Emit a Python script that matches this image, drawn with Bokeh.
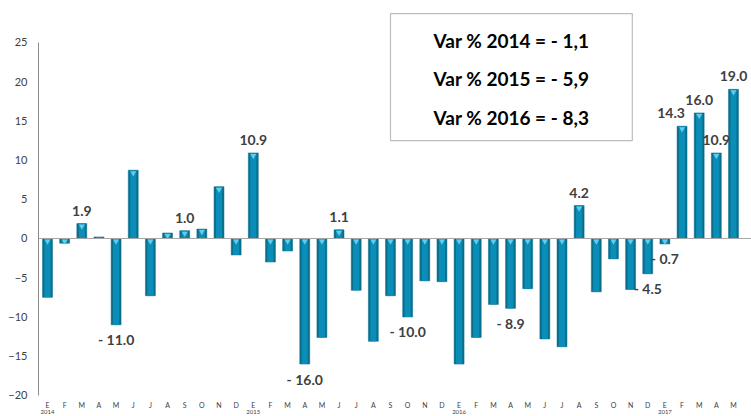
from bokeh.plotting import figure
from bokeh.models import Range1d, FixedTicker, BoxAnnotation, ColumnDataSource, Span
from bokeh.core.properties import value
from bokeh.embed import file_html
from bokeh.resources import INLINE

# ---------------- data ----------------
months = ["E", "F", "M", "A", "M", "J", "J", "A", "S", "O", "N", "D"] * 3 + ["E", "F", "M", "A", "M"]
years = ["2014", "2015", "2016", "2017"]
year_first_month = [0, 12, 24, 36]
values = [
    -7.5, -0.6, 1.9, 0.2, -11.0, 8.7, -7.3, 0.7, 1.0, 1.2, 6.6, -2.1,        # 2014
    10.9, -3.0, -1.6, -16.0, -12.6, 1.1, -6.6, -13.1, -7.3, -10.0, -5.4, -5.5,  # 2015
    -16.0, -12.6, -8.4, -8.9, -6.4, -12.8, -13.8, 4.2, -6.8, -2.6, -6.5, -4.5,  # 2016
    -0.7, 14.3, 16.0, 10.9, 19.0,                                              # 2017
]
labeled_idx = [2, 4, 8, 12, 15, 17, 21, 27, 31, 35, 36, 37, 38, 39, 40]
summary_lines = ["Var % 2014 = - 1,1", "Var % 2015 = - 5,9", "Var % 2016 = - 8,3"]
y_ticks = [-20, -15, -10, -5, 0, 5, 10, 15, 20, 25]

FONT = "Lato"
idx = list(range(len(values)))

p = figure(width=751, height=416, output_backend="svg", toolbar_location=None,
           x_range=Range1d(-0.525, 41.05), y_range=Range1d(-22.68, 30.32),
           x_axis_location=None, min_border_left=38, min_border_right=0,
           min_border_top=0, min_border_bottom=0)
p.outline_line_color = None
p.grid.visible = False
p.background_fill_color = "white"

# y axis
ax = p.yaxis[0]
ax.ticker = FixedTicker(ticks=y_ticks)
ax.bounds = (-20, 25)
ax.axis_line_color = "#8C8C8C"
ax.major_tick_out = 0
ax.major_tick_in = 0
ax.minor_tick_out = 0
ax.minor_tick_in = 0
ax.major_label_standoff = 11
ax.major_label_text_font = FONT
ax.major_label_text_font_size = "11px"
ax.major_label_text_color = "#404040"

# zero line
p.add_layout(Span(location=0, dimension="width", line_color="#A6A6A6", line_width=1))

# bars
tops = [max(v, 0) for v in values]
bottoms = [min(v, 0) for v in values]
src = ColumnDataSource(dict(x=idx, top=tops, bottom=bottoms))
p.vbar(x="x", top="top", bottom="bottom", width=0.58, source=src,
       fill_color="#0A6E8C", line_color="#0A6E8C", line_width=0.5)
p.vbar(x="x", top="top", bottom="bottom", width=0.36, source=src,
       fill_color="#0A8DB6", line_color=None)
cap_x = [i for i in idx if abs(values[i]) >= 0.4]
cap_y = [tops[i] - 0.35 for i in cap_x]
p.scatter(x=cap_x, y=cap_y, marker="inverted_triangle", size=6,
          fill_color="#62CDEB", line_color=None)

# data labels
lab_x, lab_y, lab_t, lab_off, lab_xoff = [], [], [], [], []
for i in labeled_idx:
    v = values[i]
    lab_x.append(i)
    lab_y.append(v)
    lab_t.append(f"{v:.1f}" if v >= 0 else f"- {abs(v):.1f}")
    lab_off.append(-13 if v >= 0 else 15)
    lab_xoff.append(-11 if i == 37 else 0)
p.text(x=lab_x, y=lab_y, text=lab_t, y_offset=lab_off, x_offset=lab_xoff,
       text_font=value(FONT), text_font_style="bold", text_font_size="14px",
       text_color="#404040", text_align="center", text_baseline="middle")

# month / year labels
p.text(x=idx, y=[-20] * len(idx), text=months, y_offset=10,
       text_font=value(FONT), text_font_size="7px", text_color="#404040",
       text_align="center", text_baseline="middle")
p.text(x=year_first_month, y=[-20] * len(years), text=years, y_offset=17,
       text_font=value(FONT), text_font_size="6px", text_color="#404040",
       text_align="center", text_baseline="middle")

# summary box
box_l, box_r, box_t, box_b = 20.0, 34.1, 28.66, 12.48
p.add_layout(BoxAnnotation(left=box_l, right=box_r, top=box_t, bottom=box_b,
                           fill_color="white", fill_alpha=1.0,
                           line_color="#262626", line_width=1.2, level="underlay"))
cx = (box_l + box_r) / 2
p.text(x=[cx] * 3, y=[25.22, 20.38, 15.41], text=summary_lines,
       text_font=value(FONT), text_font_style="bold", text_font_size="19px",
       text_color="#000000", text_align="center", text_baseline="middle")

open("out.html", "w").write(file_html(p, INLINE))
